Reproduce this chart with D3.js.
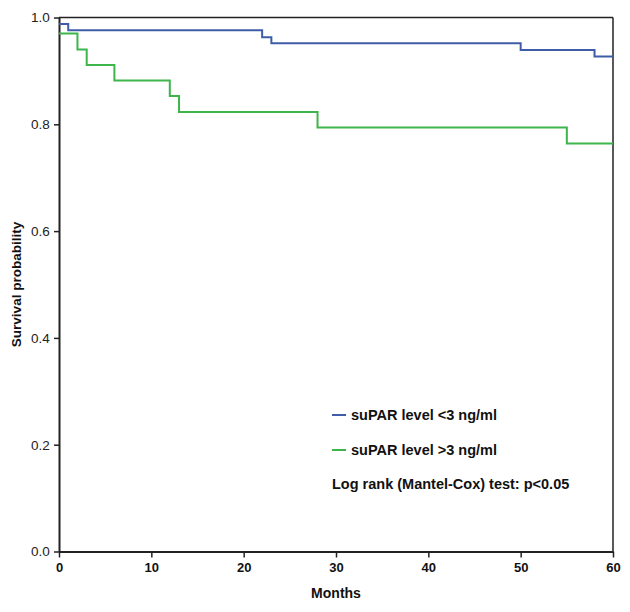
<!DOCTYPE html>
<html><head><meta charset="utf-8">
<script src="https://cdn.jsdelivr.net/npm/d3@7"></script>
<style>body{margin:0;background:#fff}svg{display:block}</style>
</head><body>
<svg id="chart" width="630" height="612"></svg>
<script>
// Data (Kaplan-Meier step curves)
const lowTimes = [0, 1, 22, 23, 50, 58, 60];
const lowSurv  = [0.988, 0.976, 0.963, 0.952, 0.939, 0.927, 0.927];
const highTimes = [0, 2, 3, 6, 12, 13, 28, 55, 60];
const highSurv  = [0.970, 0.940, 0.911, 0.882, 0.853, 0.823, 0.794, 0.764, 0.764];
const seriesNames = ["suPAR level <3 ng/ml", "suPAR level >3 ng/ml"];
const seriesColors = ["#3E5CA8", "#3DB54A"];
const xTicks = [0, 10, 20, 30, 40, 50, 60];
const yTicks = [0, 0.2, 0.4, 0.6, 0.8, 1.0];
const statText = "Log rank (Mantel-Cox) test: p<0.05";

const svg = d3.select("#chart");
const L = 59, R = 613, T = 17.5, B = 551.5;
const x = d3.scaleLinear().domain([0, 60]).range([L, R]);
const y = d3.scaleLinear().domain([0, 1]).range([B, T]);
const FF = "Arial, 'Liberation Sans', sans-serif";

// frame top/right
svg.append("line").attr("x1", L).attr("x2", R).attr("y1", T).attr("y2", T).attr("stroke", "#222").attr("stroke-width", 1.5);
svg.append("line").attr("x1", R).attr("x2", R).attr("y1", T).attr("y2", B).attr("stroke", "#222").attr("stroke-width", 1.5);

const xAxis = svg.append("g").attr("transform", `translate(0,${B})`)
  .call(d3.axisBottom(x).tickValues(xTicks).tickFormat(d3.format("d")).tickSize(6).tickSizeOuter(0));
const yAxis = svg.append("g").attr("transform", `translate(${L},0)`)
  .call(d3.axisLeft(y).tickValues(yTicks).tickFormat(d3.format(".1f")).tickSize(5).tickSizeOuter(0));
[xAxis, yAxis].forEach(g => {
  g.select(".domain").attr("stroke", "#222").attr("stroke-width", 2);
  g.selectAll(".tick line").attr("stroke", "#222").attr("stroke-width", 1.5);
});
xAxis.selectAll("text").attr("font-family", FF).attr("font-size", 13)
  .attr("font-weight", "bold").attr("fill", "#111").attr("dy", "0.9em");
yAxis.selectAll("text").attr("font-family", FF).attr("font-size", 13.5)
  .attr("fill", "#222").attr("dx", "-0.1em");

// curves
const line = d3.line().x(d => x(d[0])).y(d => y(d[1])).curve(d3.curveStepAfter);
const data = [
  lowTimes.map((t, i) => [t, lowSurv[i]]),
  highTimes.map((t, i) => [t, highSurv[i]])
];
data.forEach((d, i) => {
  svg.append("path").datum(d).attr("d", line).attr("fill", "none")
    .attr("stroke", seriesColors[i]).attr("stroke-width", 2);
});

// axis titles
svg.append("text").attr("x", (L + R) / 2).attr("y", 598).attr("text-anchor", "middle")
  .attr("font-family", FF).attr("font-weight", "bold")
  .attr("font-size", 14).attr("fill", "#111").text("Months");
svg.append("text").attr("transform", `translate(21,${(T + B) / 2}) rotate(-90)`).attr("text-anchor", "middle")
  .attr("font-family", FF).attr("font-weight", "bold")
  .attr("font-size", 13.5).attr("fill", "#111").text("Survival probability");

// legend
const legY = [415, 450];
seriesNames.forEach((n, i) => {
  svg.append("line").attr("x1", 332).attr("x2", 346).attr("y1", legY[i]).attr("y2", legY[i])
    .attr("stroke", seriesColors[i]).attr("stroke-width", 2);
  svg.append("text").attr("x", 351).attr("y", legY[i] + 5)
    .attr("font-family", FF).attr("font-weight", "bold")
    .attr("font-size", 14.5).attr("fill", "#111").text(n);
});
svg.append("text").attr("x", 332).attr("y", 489)
  .attr("font-family", FF).attr("font-weight", "bold")
  .attr("font-size", 14.5).attr("fill", "#111").text(statText);
</script>
</body></html>
